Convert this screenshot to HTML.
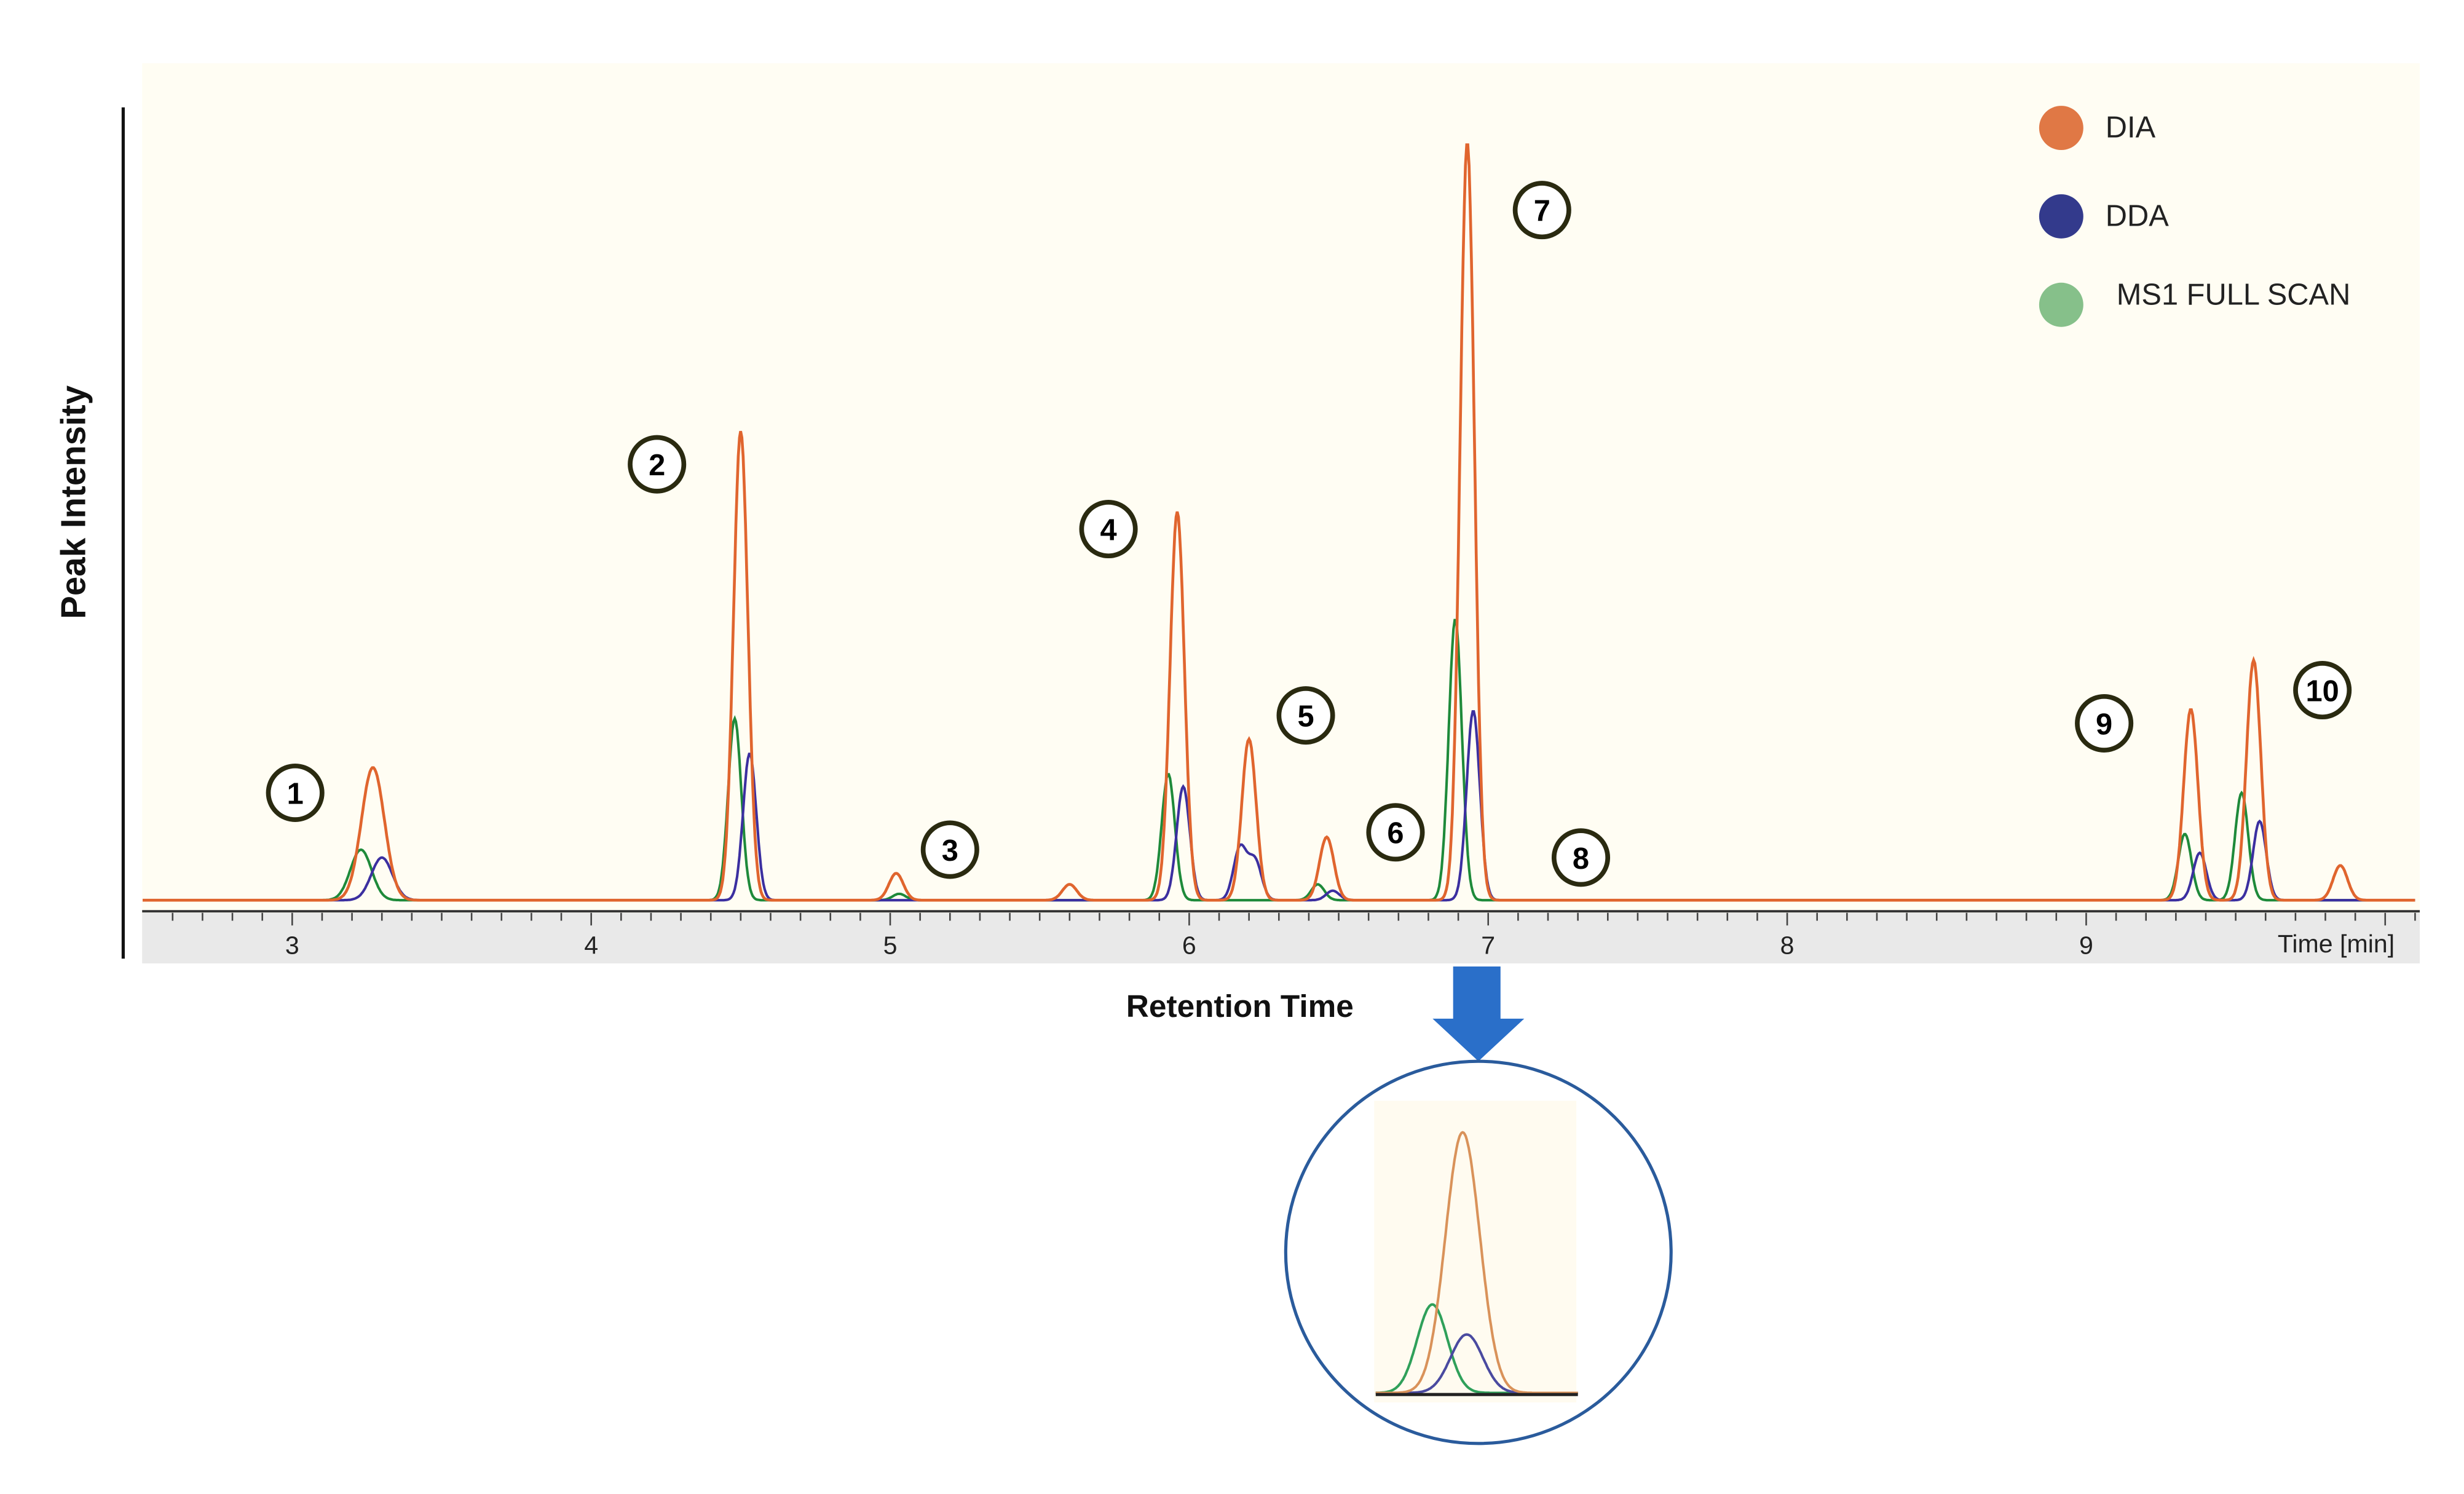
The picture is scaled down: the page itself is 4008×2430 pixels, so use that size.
<!DOCTYPE html>
<html><head><meta charset="utf-8"><style>
html,body{margin:0;padding:0;background:#fff}
svg{display:block}
text{font-family:"Liberation Sans",sans-serif}
</style></head><body>
<svg id="chart" width="4008" height="2430" viewBox="0 0 1560 946" preserveAspectRatio="none" xmlns="http://www.w3.org/2000/svg">
<rect x="90" y="40" width="1442" height="570" fill="#fffdf3"/>
<rect x="90" y="578" width="1442" height="32" fill="#e9e9e9"/>
<line x1="78" y1="68" x2="78" y2="607" stroke="#111" stroke-width="2"/>
<line x1="90" y1="577" x2="1532" y2="577" stroke="#333" stroke-width="1.5"/>
<g id="ticks"></g>
<g id="series"></g>
<text x="1442" y="603" font-size="16" fill="#222">Time [min]</text>
<text transform="translate(54,318) rotate(-90)" text-anchor="middle" font-size="22" font-weight="bold" fill="#111">Peak Intensity</text>
<text x="785" y="644" text-anchor="middle" font-size="20" font-weight="bold" fill="#111">Retention Time</text>
<g>
<circle cx="1305" cy="81" r="14" fill="#e07845"/>
<text x="1333" y="87" font-size="19" fill="#222">DIA</text>
<circle cx="1305" cy="137" r="14" fill="#333a8c"/>
<text x="1333" y="143" font-size="19" fill="#222">DDA</text>
<circle cx="1305" cy="193" r="14" fill="#86c08a"/>
<text x="1340" y="193" font-size="19" fill="#222">MS1 FULL SCAN</text>
</g>
<g id="labels"></g>
<g>
<polygon points="920,612 950,612 950,645 965,645 936,672 907,645 920,645" fill="#2a6fc9"/>
</g>
<ellipse cx="936" cy="793" rx="122" ry="121" fill="#fff" stroke="#2a5b9c" stroke-width="2"/>
<rect x="870" y="697" width="128" height="191" fill="#fffbf0"/>
<g id="inset"></g>
</svg>
<script>
const NS="http://www.w3.org/2000/svg";
const tickLabels=[3,4,5,6,7,8,9];
const diaT=[3.27,4.50,5.02,5.60,5.96,6.20,6.46,6.93,9.35,9.56,9.85];
const diaH=[84,297,17,10,246,102,40,480,121,152,22];
const ddaT=[3.30,4.53,5.98,6.17,6.22,6.48,6.95,9.38,9.58];
const ddaH=[27,93,72,33,25,6,120,30,50];
const ms1T=[3.23,4.48,5.03,5.93,6.43,6.89,9.33,9.52];
const ms1H=[32,115,4,80,10,178,42,68];
const labelNums=["1","2","3","4","5","6","7","8","9","10"];
const labelT=[3.01,4.22,5.20,5.73,6.39,6.69,7.18,7.31,9.06,9.79];
const labelH=[68,276,32,235,117,43,437,27,112,133];
const insetT=[0.43,0.28,0.45];
const insetH=[165,56,37];
const x=t=>185+(t-3)*189.3, y=h=>570-h;
const tk=document.getElementById('ticks');
for(let t=2.5;t<=10.1;t+=0.1){const X=x(t);if(X<92||X>1530)continue;
 const l=document.createElementNS(NS,'line');
 
 
 const major=Math.abs(t-Math.round(t))<0.01;
 l.setAttribute('x1',X);l.setAttribute('x2',X);l.setAttribute('y1',578);l.setAttribute('y2',major?586:583);
 l.setAttribute('stroke','#444');l.setAttribute('stroke-width',1);tk.appendChild(l);}
tickLabels.forEach(v=>{const e=document.createElementNS(NS,'text');
 
 
 e.setAttribute('x',x(v));e.setAttribute('y',604);e.setAttribute('text-anchor','middle');e.setAttribute('font-size',16);e.setAttribute('fill','#222');e.textContent=v;tk.appendChild(e);});
function curve(T,H,sig,col,name,w){let d='';for(let t=2.5;t<=10.1;t+=0.004){let v=0;T.forEach((c,i)=>{const s=(c<3.5?sig*1.6:sig);v+=H[i]*Math.exp(-((t-c)**2)/(2*s*s));});
 const X=x(t);if(X<90||X>1532)continue;d+=(d?'L':'M')+X.toFixed(1)+','+y(v).toFixed(1);}
 const p=document.createElementNS(NS,'path');
 
 
 p.setAttribute('d',d);p.setAttribute('fill','none');p.setAttribute('stroke',col);p.setAttribute('stroke-width',w);
 document.getElementById('series').appendChild(p);}
curve(ms1T,ms1H,0.022,'#1e8a3a','ms1-series',1.6);
curve(ddaT,ddaH,0.022,'#3b2fa0','dda-series',1.6);
curve(diaT,diaH,0.024,'#e0652e','dia-series',1.8);
const lb=document.getElementById('labels');
labelNums.forEach((n,i)=>{const g=document.createElementNS(NS,'g');
 
 
 const c=document.createElementNS(NS,'circle');c.setAttribute('cx',x(labelT[i]));c.setAttribute('cy',y(labelH[i]));c.setAttribute('r',17);c.setAttribute('fill','#fff');c.setAttribute('stroke','#2a2a10');c.setAttribute('stroke-width',3);
 const e=document.createElementNS(NS,'text');e.setAttribute('x',x(labelT[i]));e.setAttribute('y',y(labelH[i])+7);e.setAttribute('text-anchor','middle');e.setAttribute('font-size',19);e.setAttribute('font-weight','bold');e.textContent=n;
 g.appendChild(c);g.appendChild(e);lb.appendChild(g);});
const ix=u=>871+u*128, iy=h=>882-h;
const ins=document.getElementById('inset');
[['#2fa05a',1,0.075,'inset-ms1'],['#4a4aa0',2,0.08,'inset-dda'],['#d9925a',0,0.085,'inset-dia']].forEach(([col,i,s,name])=>{
 let d='';for(let u=0;u<=1.0001;u+=0.005){const v=insetH[i]*Math.exp(-((u-insetT[i])**2)/(2*s*s));d+=(d?'L':'M')+ix(u).toFixed(1)+','+iy(v).toFixed(1);}
 const p=document.createElementNS(NS,'path');
 
 
 p.setAttribute('d',d);p.setAttribute('fill','none');p.setAttribute('stroke',col);p.setAttribute('stroke-width',1.6);ins.appendChild(p);});
const bl=document.createElementNS(NS,'line');


bl.setAttribute('x1',871);bl.setAttribute('x2',999);bl.setAttribute('y1',883);bl.setAttribute('y2',883);bl.setAttribute('stroke','#222');bl.setAttribute('stroke-width',2);ins.appendChild(bl);
</script>
</body></html>
